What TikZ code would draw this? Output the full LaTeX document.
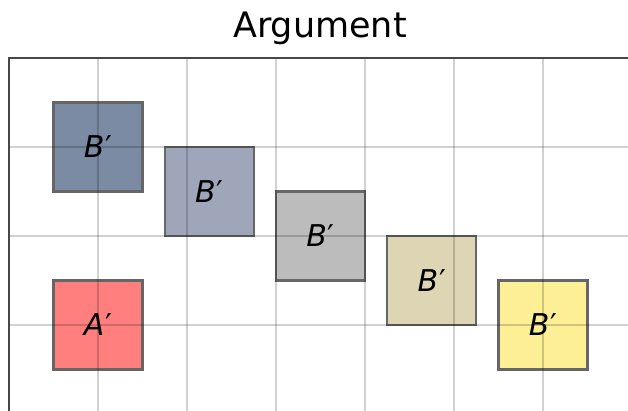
\documentclass[tikz,border=0pt]{standalone}
\usepackage{fontspec}
\setmainfont{DejaVu Sans}
\definecolor{cB1}{HTML}{7B8BA3}
\definecolor{cB2}{HTML}{A0A6BA}
\definecolor{cB3}{HTML}{BCBCBC}
\definecolor{cB4}{HTML}{DDD5B3}
\definecolor{cB5}{HTML}{FDEF95}
\definecolor{cA}{HTML}{FF7F7F}
\newcommand{\prm}{{\upshape\kern1pt ′}}
\tikzset{
  sq/.style={draw=black!60, line width=2.2pt, minimum width=89pt, minimum height=89pt, inner sep=0pt, font=\fontsize{30}{34}\selectfont\itshape},
  gridln/.style={draw=black, draw opacity=0.18, line width=2pt},
  spine/.style={draw=black!72, line width=2.6pt}
}
\begin{document}
\begin{tikzpicture}
\useasboundingbox (0,0) rectangle (628pt,411pt);
\clip (0,0) rectangle (628pt,411pt);
\node[anchor=base, inner sep=0pt] (title) at (320pt,373pt) {\fontsize{35}{40}\selectfont Argument};
\begin{scope}[shift={(9pt,353pt)}, x=89pt, y=-89pt]
  \node[sq, fill=cB1] (b1) at (1,1) {B\prm};
  \node[sq, fill=cB2] (b2) at (2.25,1.5) {B\prm};
  \node[sq, fill=cB3] (b3) at (3.5,2) {B\prm};
  \node[sq, fill=cB4] (b4) at (4.75,2.5) {B\prm};
  \node[sq, fill=cB5] (b5) at (6,3) {B\prm};
  \node[sq, fill=cA] (a1) at (1,3) {A\prm};
  \foreach \i in {1,...,6} \draw[gridln] (\i,0) -- (\i,5);
  \foreach \j in {1,...,3} \draw[gridln] (0,\j) -- (8,\j);
  \draw[spine] (0,5) -- (0,0) -- (8,0);
\end{scope}
\end{tikzpicture}
\end{document}
